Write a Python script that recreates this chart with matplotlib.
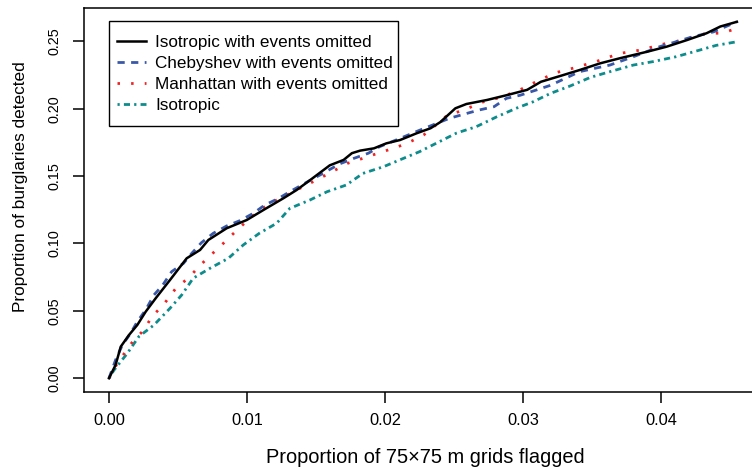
import matplotlib
matplotlib.use("Agg")
import matplotlib.pyplot as plt
from matplotlib.patches import Rectangle

plt.rcParams['font.family'] = ['Liberation Sans', 'DejaVu Sans']

iso_omit_x = [0, 0.00048, 0.00085, 0.00145, 0.00205, 0.00266, 0.00338, 0.00442, 0.00563, 0.0066, 0.0072,
              0.00853, 0.00998, 0.0112, 0.01263, 0.0136, 0.01457, 0.016, 0.017, 0.0176, 0.0182, 0.0192,
              0.0201, 0.0211, 0.0223, 0.0233, 0.024, 0.0251, 0.0259, 0.0274, 0.0288, 0.0303, 0.0313,
              0.0327, 0.0341, 0.0356, 0.037, 0.039, 0.0404, 0.0419, 0.0433, 0.0443, 0.0455]
iso_omit_y = [0, 0.0099, 0.0234, 0.0321, 0.0395, 0.0494, 0.0593, 0.0729, 0.089, 0.0952, 0.1026,
              0.1113, 0.1174, 0.1249, 0.1335, 0.1397, 0.147, 0.158, 0.162, 0.167, 0.1689, 0.1706,
              0.1743, 0.1768, 0.1818, 0.1855, 0.19, 0.2003, 0.2035, 0.2065, 0.21, 0.214, 0.22,
              0.2243, 0.2287, 0.2337, 0.2374, 0.2423, 0.246, 0.251, 0.256, 0.261, 0.2645]

cheb_x = [0, 0.00048, 0.00097, 0.00157, 0.00205, 0.00266, 0.00326, 0.0039, 0.00454, 0.0054, 0.006,
          0.0067, 0.00756, 0.00853, 0.0095, 0.01046, 0.0113, 0.0123, 0.0131, 0.0146, 0.0155, 0.0167,
          0.0177, 0.0188, 0.0196, 0.0211, 0.0225, 0.0247, 0.0268, 0.0279, 0.0288, 0.0298, 0.031,
          0.032, 0.0341, 0.0363, 0.038, 0.0399, 0.0423, 0.0438, 0.0455]
cheb_y = [0, 0.0136, 0.0247, 0.0334, 0.042, 0.0507, 0.0618, 0.0692, 0.0791, 0.0853, 0.0927,
          0.1006, 0.1076, 0.113, 0.117, 0.1224, 0.1286, 0.1335, 0.1384, 0.147, 0.152, 0.159,
          0.163, 0.167, 0.1718, 0.178, 0.184, 0.193, 0.199, 0.2015, 0.2077, 0.21, 0.214,
          0.2174, 0.2275, 0.2324, 0.2386, 0.246, 0.2534, 0.257, 0.2645]

manh_x = [0, 0.0006, 0.0012, 0.0018, 0.00254, 0.0031, 0.00394, 0.0049, 0.00575, 0.00647, 0.0072,
          0.00804, 0.00877, 0.0095, 0.0102, 0.0109, 0.0119, 0.0129, 0.0136, 0.01457, 0.0155, 0.0164,
          0.0173, 0.0184, 0.0195, 0.0206, 0.0216, 0.0228, 0.0237, 0.0245, 0.0257, 0.0271, 0.0281,
          0.0295, 0.0312, 0.0324, 0.0336, 0.0353, 0.037, 0.0385, 0.0402, 0.0416, 0.0433, 0.0444, 0.0455]
manh_y = [0, 0.011, 0.0197, 0.0284, 0.0358, 0.0457, 0.0544, 0.0675, 0.0742, 0.0823, 0.0898,
          0.0976, 0.105, 0.112, 0.1187, 0.1249, 0.131, 0.136, 0.1397, 0.1447, 0.1496, 0.1545,
          0.1595, 0.1632, 0.167, 0.1706, 0.1743, 0.1805, 0.188, 0.195, 0.199, 0.205, 0.2077,
          0.2126, 0.2213, 0.2268, 0.23, 0.235, 0.241, 0.2435, 0.248, 0.251, 0.256, 0.256, 0.2596]

iso_x = [0, 0.00036, 0.00133, 0.00217, 0.00326, 0.00442, 0.00527, 0.0061, 0.00732, 0.00865, 0.00973,
         0.0109, 0.01215, 0.0131, 0.0137, 0.01457, 0.0158, 0.0172, 0.0184, 0.0199, 0.0213, 0.0225,
         0.0237, 0.0252, 0.0266, 0.0281, 0.0295, 0.0307, 0.032, 0.0334, 0.0349, 0.0363, 0.038,
         0.0394, 0.0411, 0.0428, 0.044, 0.0455]
iso_y = [0, 0.006, 0.0185, 0.031, 0.0395, 0.0519, 0.0618, 0.0742, 0.0816, 0.089, 0.0989,
         0.1076, 0.115, 0.126, 0.1286, 0.1323, 0.1384, 0.1434, 0.152, 0.157, 0.163, 0.1681,
         0.1743, 0.182, 0.1866, 0.194, 0.2003, 0.205, 0.2114, 0.2168, 0.2233, 0.2275, 0.2324,
         0.2349, 0.2386, 0.2435, 0.247, 0.2497]

labels = ["Isotropic with events omitted", "Chebyshev with events omitted",
          "Manhattan with events omitted", "Isotropic"]
xticks = [0.00, 0.01, 0.02, 0.03, 0.04]
xticklabels = ["0.00", "0.01", "0.02", "0.03", "0.04"]
yticks = [0.00, 0.05, 0.10, 0.15, 0.20, 0.25]
yticklabels = ["0.00", "0.05", "0.10", "0.15", "0.20", "0.25"]

W, H = 752, 468
fig = plt.figure(figsize=(W / 100, H / 100), dpi=100)
ax_bottom, ax_top = 392, 7.5
ax_w = 688.8
ax = fig.add_axes([84 / W, (H - ax_bottom) / H, ax_w / W, (ax_bottom - ax_top) / H])
ax_h = ax_bottom - ax_top

ax.plot(iso_omit_x, iso_omit_y, color='black', lw=1.8, label=labels[0], zorder=5)
ax.plot(cheb_x, cheb_y, color='#3A58A8', lw=2.0, linestyle=(0, (2.6, 2.3)), label=labels[1], zorder=4)
ax.plot(manh_x, manh_y, color='#EE2424', lw=2.0, linestyle=(0, (0.9, 4.0)), label=labels[2], zorder=3)
ax.plot(iso_x, iso_y, color='#0E8C8C', lw=2.0, linestyle=(0, (0.8, 1.5, 2.2, 1.5)), label=labels[3], zorder=2)

ax.set_xlim(-0.00181, 0.0481)
ax.set_ylim(-0.0102, 0.2751)
ax.set_xticks(xticks)
ax.set_xticklabels(xticklabels)
ax.set_yticks(yticks)
ax.set_yticklabels(yticklabels, rotation=90, va='center')

for s in ax.spines.values():
    s.set_linewidth(1.1)
ax.tick_params(direction='out', length=8, width=1.1, pad=7)
ax.tick_params(axis='x', labelsize=11.8)
ax.tick_params(axis='y', labelsize=10.4, pad=8)

ax.set_xlabel("Proportion of 75\u00d775 m grids flagged", fontsize=14.4)
ax.xaxis.label.set_va('center')
ax.xaxis.set_label_coords((425.5 - 84) / ax_w, (ax_bottom - 457.5) / ax_h)
ax.set_ylabel("Proportion of burglaries detected", fontsize=12.4)
ax.yaxis.label.set_va('center')
ax.yaxis.set_label_coords((21 - 84) / ax_w, (ax_bottom - 186.5) / ax_h)

leg = ax.legend(loc='upper left', bbox_to_anchor=(116.5 / W, 1 - 34.5 / H),
                bbox_transform=fig.transFigure, borderaxespad=0, fontsize=12.3,
                frameon=False, handlelength=1.75, handletextpad=0.5,
                labelspacing=0.37, borderpad=0)
leg.set_zorder(8)
frame = Rectangle((109 / W, 1 - 125.7 / H), (398.3 - 109) / W, (125.7 - 20.7) / H,
                  transform=fig.transFigure, facecolor='white', edgecolor='black',
                  linewidth=1.0, zorder=7, clip_on=False)
ax.add_patch(frame)

fig.savefig("out.png", dpi=100)
